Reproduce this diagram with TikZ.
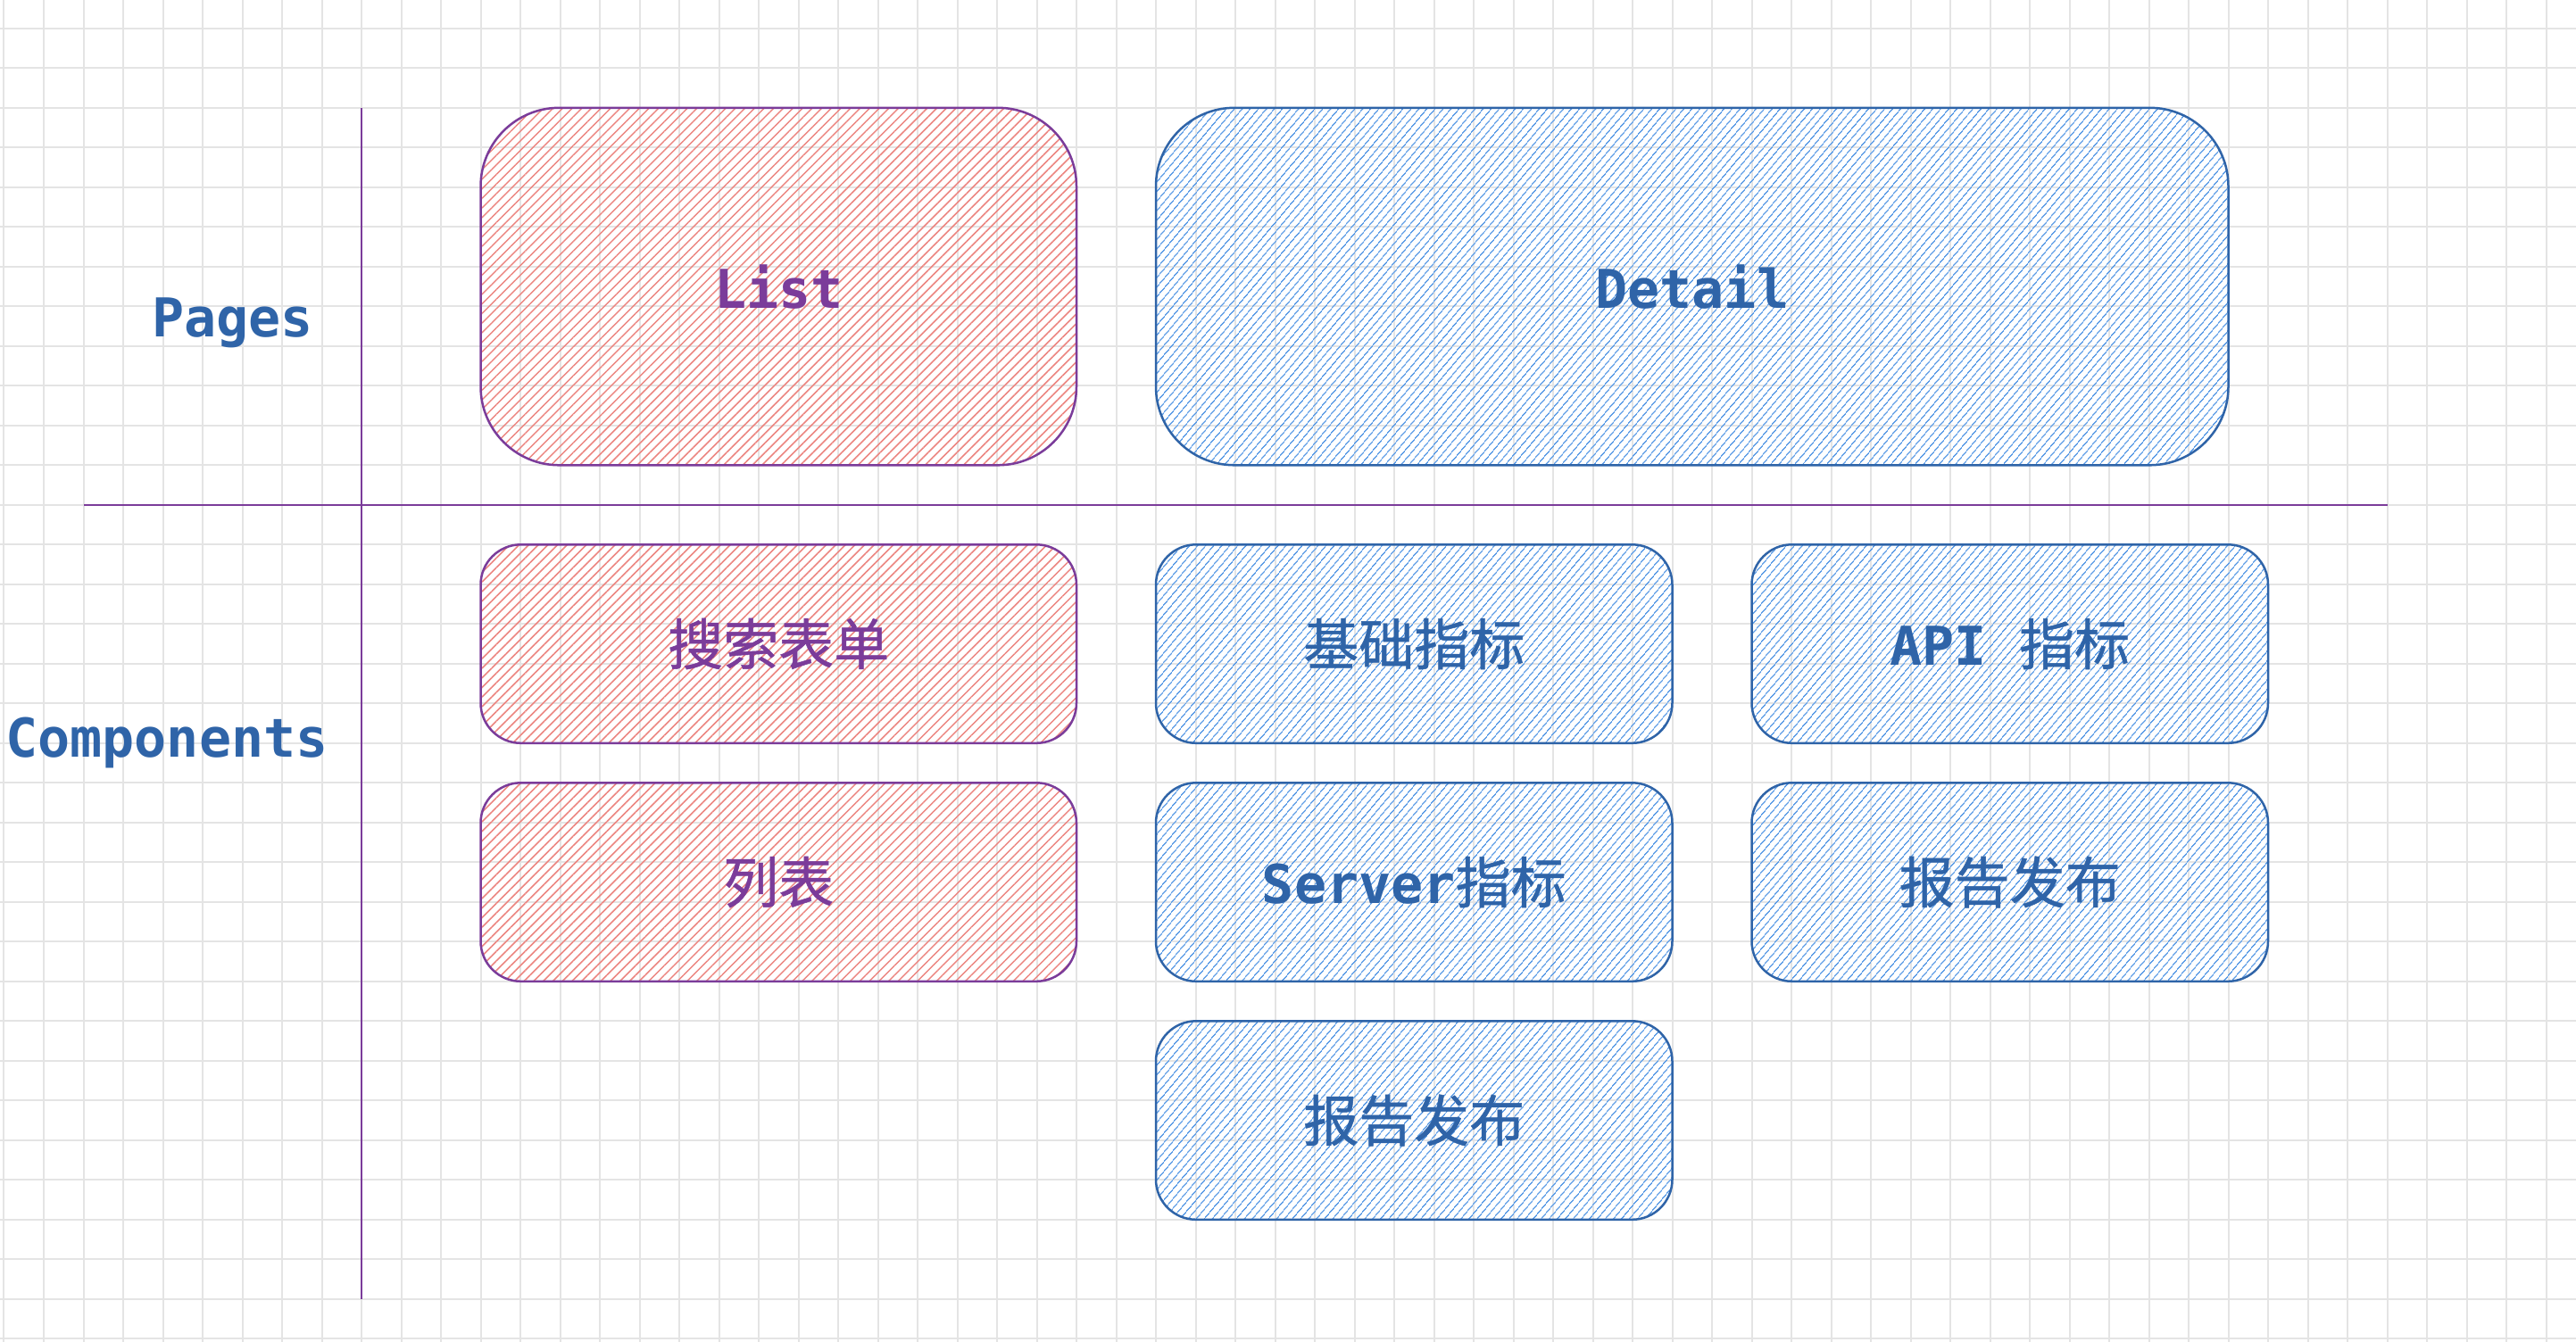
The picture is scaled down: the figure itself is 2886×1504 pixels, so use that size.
\documentclass[tikz,border=0pt]{standalone}
\usepackage{fontspec}
\newfontfamily\monof{DejaVu Sans Mono}
\newfontfamily\cjkf{Noto Sans CJK SC}[FakeBold=0.8]
\usetikzlibrary{patterns.meta}
\definecolor{gridc}{HTML}{E4E4E4}
\definecolor{purp}{HTML}{7B3C9A}
\definecolor{redh}{HTML}{EC8580}
\definecolor{bluel}{HTML}{2F64A8}
\definecolor{blueh}{HTML}{5C9CE6}
\newcommand\entxt[1]{{\monof\bfseries\fontsize{60}{72}\selectfont #1}}
\newcommand\zhtxt[1]{{\cjkf\fontsize{62}{72}\selectfont #1}}
\begin{document}
\begin{tikzpicture}[x=44.5pt,y=-44.5pt,
  gridline/.style={draw=gridc,line width=2pt},
  divider/.style={draw=purp,line width=2.2pt},
  boxbase/.style={rectangle,inner sep=0pt,line width=2.5pt},
  pagebox/.style={boxbase,rounded corners=88pt},
  compbox/.style={boxbase,rounded corners=45pt,minimum height=222.5pt},
  redbox/.style={draw=purp,text=purp,pattern={Lines[angle=45,distance=7.6pt,line width=1.5pt]},pattern color=redh},
  bluebox/.style={draw=bluel,text=bluel,pattern={Lines[angle=50,distance=6.4pt,line width=1.4pt]},pattern color=blueh},
  sidelbl/.style={anchor=base,text=bluel,inner sep=0pt,font=\monof\bfseries\fontsize{60}{72}\selectfont}]
\useasboundingbox[fill=white] (-4.5pt,31.8pt) rectangle (2881.5pt,-1472.2pt);
% grid
\foreach \i in {0,...,64} \draw[gridline] (\i,-0.72) -- (\i,33.09);
\foreach \j in {0,...,33} \draw[gridline] (-0.11,\j) -- (64.76,\j);
% dividers
\coordinate (vtop) at (9,2);
\coordinate (vbot) at (9,32);
\coordinate (hleft) at (2,12);
\coordinate (hright) at (60,12);
\draw[divider] (vtop) -- (vbot);
\draw[divider] (hleft) -- (hright);
% side labels
\node[sidelbl] (pages) at (5.76,7.76) {Pages};
\node[sidelbl] (components) at (4.1,18.36) {Components};
% pages
\node[pagebox,redbox,minimum width=667.5pt,minimum height=400.5pt] (list) at (19.5,6.5) {\entxt{List}};
\node[pagebox,bluebox,minimum width=1201.5pt,minimum height=400.5pt] (detail) at (42.5,6.5) {\entxt{Detail}};
% components
\node[compbox,redbox,minimum width=667.5pt] (search) at (19.5,15.5) {\zhtxt{搜索表单}};
\node[compbox,redbox,minimum width=667.5pt] (table) at (19.5,21.5) {\zhtxt{列表}};
\node[compbox,bluebox,minimum width=578.5pt] (basic) at (35.5,15.5) {\zhtxt{基础指标}};
\node[compbox,bluebox,minimum width=578.5pt] (server) at (35.5,21.5) {\entxt{Server}\zhtxt{指标}};
\node[compbox,bluebox,minimum width=578.5pt] (report) at (35.5,27.5) {\zhtxt{报告发布}};
\node[compbox,bluebox,minimum width=578.5pt] (api) at (50.5,15.5) {\entxt{API }\zhtxt{指标}};
\node[compbox,bluebox,minimum width=578.5pt] (publish) at (50.5,21.5) {\zhtxt{报告发布}};
\end{tikzpicture}
\end{document}
